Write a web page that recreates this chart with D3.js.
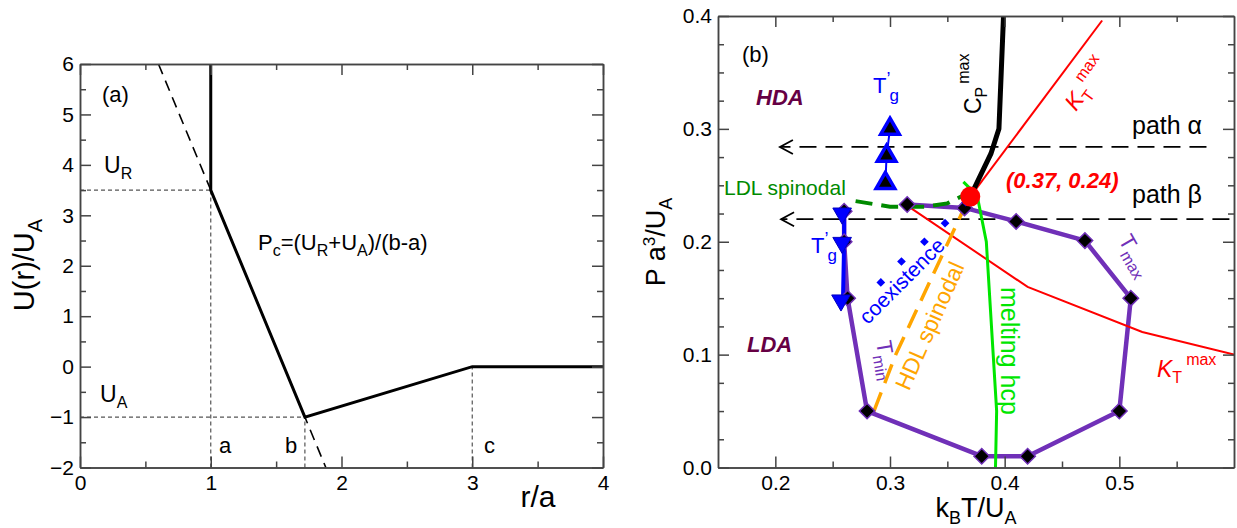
<!DOCTYPE html>
<html>
<head>
<meta charset="utf-8">
<script src="https://cdn.jsdelivr.net/npm/d3@7"></script>
<style>
  body { margin: 0; background: #fff; }
  svg { display: block; }
  text { font-family: "Liberation Sans", Arial, Helvetica, sans-serif; }
</style>
</head>
<body>
<svg id="chart" width="1237" height="528"></svg>
<script>
// ---------- Panel (a): ramp potential U(r)/U_A ----------
const potR = [1, 1, 1.72, 3, 4];
const potU = [6, 3.5, -1, 0, 0];
const rampR = [0.6, 1.88];          // extension of the repulsive ramp
const rampU = [6, -2];
const hGuideU = [3.5, -1];           // horizontal guides from r=0
const hGuideEnd = [1, 1.72];
const vGuideR = [1, 1.72, 3];        // vertical guides from U=-2
const vGuideTop = [3.5, -1, 0];
const aXTicks = [0, 1, 2, 3, 4];
const aXMinor = [0.5, 1.5, 2.5, 3.5];
const aYTicks = [-2, -1, 0, 1, 2, 3, 4, 5, 6];
const aYMinor = [-1.5, -0.5, 0.5, 1.5, 2.5, 3.5, 4.5, 5.5];

// ---------- Panel (b): phase diagram P a^3/U_A vs k_B T/U_A ----------
const bXTicks = [0.2, 0.3, 0.4, 0.5];
const bXMinor = [0.25, 0.35, 0.45, 0.55];
const bYTicks = [0.0, 0.1, 0.2, 0.3, 0.4];
const bYLabels = ["0.0", "0.1", "0.2", "0.3", "0.4"];
const bYMinor = [0.025, 0.05, 0.075, 0.125, 0.15, 0.175, 0.225, 0.25, 0.275, 0.325, 0.35, 0.375];

// density-extremum line (T_min branch then T_max branch)
const tmdT = [0.260, 0.260, 0.263, 0.280, 0.380, 0.420, 0.500, 0.510, 0.470, 0.410, 0.365, 0.315];
const tmdP = [0.227, 0.200, 0.150, 0.050, 0.010, 0.010, 0.050, 0.150, 0.201, 0.218, 0.230, 0.233];
// glass transition T'_g
const tgDownT = [0.260, 0.260, 0.259];
const tgDownP = [0.226, 0.200, 0.149];
const tgUpT = [0.296, 0.297, 0.300];
const tgUpP = [0.252, 0.276, 0.300];
// liquid-liquid coexistence
const coexT = [0.292, 0.310, 0.330, 0.348, 0.366];
const coexP = [0.164, 0.1825, 0.200, 0.2165, 0.235];
// critical point
const critT = 0.37;
const critP = 0.24;
// response-function maxima
const cpT = [0.370, 0.388, 0.395, 0.397, 0.399];
const cpP = [0.240, 0.278, 0.300, 0.350, 0.400];
const ktUpT = [0.370, 0.485];
const ktUpP = [0.240, 0.396];
const ktLowT = [0.315, 0.420, 0.520, 0.600];
const ktLowP = [0.232, 0.160, 0.120, 0.100];
// melting line of hcp crystal
const meltT = [0.364, 0.376, 0.384, 0.390, 0.393, 0.392];
const meltP = [0.253, 0.241, 0.200, 0.100, 0.050, 0.000];
// spinodals
const ldlT = [0.270, 0.300, 0.330, 0.350, 0.366];
const ldlP = [0.236, 0.231, 0.231, 0.234, 0.242];
const hdlT = [0.286, 0.305, 0.368];
const hdlP = [0.050, 0.100, 0.237];
// isobaric cooling paths (start T, end T, P)
const pathNames = ["path \u03b1", "path \u03b2"];
const pathFrom = [0.576, 0.596];
const pathTo = [0.204, 0.205];
const pathP = [0.284, 0.220];

const svg = d3.select("#chart");

// text with sub/superscript pieces
function rich(g, x, y, parts, o = {}) {
  const t = g.append("text")
    .attr("transform", `translate(${x},${y}) rotate(${o.rot || 0})`)
    .attr("fill", o.fill || "#000")
    .attr("font-size", o.size || 20)
    .attr("text-anchor", o.anchor || "start");
  if (o.weight) t.attr("font-weight", o.weight);
  if (o.italic) t.attr("font-style", "italic");
  let prev = 0;
  parts.forEach(p => {
    const off = p.off || 0;
    const s = t.append("tspan").text(p.t).attr("dy", off - prev);
    if (p.size) s.attr("font-size", p.size);
    if (p.dx) s.attr("dx", p.dx);
    if (p.italic) s.attr("font-style", "italic");
    prev = off;
  });
  return t;
}

function frame(g, x, y, major, minor, labels) {
  const st = sel => sel.call(s => s.selectAll("line").attr("stroke", "#444").attr("stroke-width", 1.5))
                       .call(s => s.select(".domain").attr("stroke", "#444").attr("stroke-width", 1.5))
                       .call(s => s.selectAll("text").attr("font-size", 21).attr("fill", "#000")
                          .style("font-family", '"Liberation Sans", Arial, sans-serif'));
  const [x0, x1] = x.range(), [y0, y1] = y.range();
  // bottom
  g.append("g").attr("transform", `translate(0,${y0})`)
    .call(d3.axisBottom(x).tickValues(major.x).tickSize(-11).tickSizeOuter(0).tickPadding(8).tickFormat(labels.x)).call(st);
  g.append("g").attr("transform", `translate(0,${y0})`)
    .call(d3.axisBottom(x).tickValues(minor.x).tickSize(-6).tickSizeOuter(0).tickFormat("")).call(st);
  // top
  g.append("g").attr("transform", `translate(0,${y1})`)
    .call(d3.axisTop(x).tickValues(major.x).tickSize(-11).tickSizeOuter(0).tickFormat("")).call(st);
  g.append("g").attr("transform", `translate(0,${y1})`)
    .call(d3.axisTop(x).tickValues(minor.x).tickSize(-6).tickSizeOuter(0).tickFormat("")).call(st);
  // left
  g.append("g").attr("transform", `translate(${x0},0)`)
    .call(d3.axisLeft(y).tickValues(major.y).tickSize(-11).tickSizeOuter(0).tickPadding(6).tickFormat(labels.y)).call(st);
  g.append("g").attr("transform", `translate(${x0},0)`)
    .call(d3.axisLeft(y).tickValues(minor.y).tickSize(-6).tickSizeOuter(0).tickFormat("")).call(st);
  // right
  g.append("g").attr("transform", `translate(${x1},0)`)
    .call(d3.axisRight(y).tickValues(major.y).tickSize(-11).tickSizeOuter(0).tickFormat("")).call(st);
  g.append("g").attr("transform", `translate(${x1},0)`)
    .call(d3.axisRight(y).tickValues(minor.y).tickSize(-6).tickSizeOuter(0).tickFormat("")).call(st);
}

// =================== Panel (a) ===================
const xA = d3.scaleLinear().domain([0, 4]).range([80, 603]);
const yA = d3.scaleLinear().domain([-2, 6]).range([467.5, 64]);
const gA = svg.append("g");

// thin dashed guides
hGuideU.forEach((u, i) => {
  gA.append("line").attr("x1", xA(0)).attr("x2", xA(hGuideEnd[i]))
    .attr("y1", yA(u)).attr("y2", yA(u))
    .attr("stroke", "#555").attr("stroke-width", 1.2).attr("stroke-dasharray", "4,3");
});
vGuideR.forEach((r, i) => {
  gA.append("line").attr("x1", xA(r)).attr("x2", xA(r))
    .attr("y1", yA(-2)).attr("y2", yA(vGuideTop[i]))
    .attr("stroke", "#555").attr("stroke-width", 1.2).attr("stroke-dasharray", "4,3");
});

// dashed ramp extension
gA.append("line").attr("x1", xA(rampR[0])).attr("y1", yA(rampU[0]))
  .attr("x2", xA(rampR[1])).attr("y2", yA(rampU[1]))
  .attr("stroke", "#000").attr("stroke-width", 1.6).attr("stroke-dasharray", "11,7");

// the potential
const lineA = d3.line().x((d, i) => xA(potR[i])).y((d, i) => yA(potU[i]));
gA.append("path").attr("d", lineA(potR)).attr("fill", "none")
  .attr("stroke", "#000").attr("stroke-width", 3).attr("stroke-linejoin", "miter");

frame(gA, xA, yA, { x: aXTicks, y: aYTicks }, { x: aXMinor, y: aYMinor },
  { x: d3.format("d"), y: d3.format("d") });

// labels
rich(gA, 102, 102, [{ t: "(a)" }], { size: 22 });
rich(gA, 104, 173, [{ t: "U" }, { t: "R", off: 6, size: 16 }], { size: 23 });
rich(gA, 100, 402, [{ t: "U" }, { t: "A", off: 6, size: 16 }], { size: 23 });
rich(gA, 219, 453, [{ t: "a" }], { size: 22 });
rich(gA, 285, 453, [{ t: "b" }], { size: 22 });
rich(gA, 484, 453, [{ t: "c" }], { size: 22 });
rich(gA, 258, 250, [
  { t: "P" }, { t: "c", off: 6, size: 16 }, { t: "=(U" }, { t: "R", off: 6, size: 16 },
  { t: "+U" }, { t: "A", off: 6, size: 16 }, { t: ")/(b-a)" }], { size: 22 });
rich(gA, 34, 265, [{ t: "U(r)/U" }, { t: "A", off: 8, size: 20 }], { size: 29, rot: -90, anchor: "middle" });
rich(gA, 538, 507, [{ t: "r/a" }], { size: 30, anchor: "middle" });

// =================== Panel (b) ===================
const xB = d3.scaleLinear().domain([0.15, 0.6]).range([718, 1234]);
const yB = d3.scaleLinear().domain([0, 0.4]).range([467.5, 16]);
const gB = svg.append("g");
const clipB = svg.append("defs").append("clipPath").attr("id", "clipB");
clipB.append("rect").attr("x", 718).attr("y", 16).attr("width", 516).attr("height", 451.5);
const plotB = gB.append("g").attr("clip-path", "url(#clipB)");

const lineB = (T, P) => d3.line().x((d, i) => xB(T[i])).y((d, i) => yB(P[i]))(T);

// isobaric paths with open arrow heads
pathNames.forEach((nm, i) => {
  plotB.append("line").attr("x1", xB(pathFrom[i])).attr("x2", xB(pathTo[i]))
    .attr("y1", yB(pathP[i])).attr("y2", yB(pathP[i]))
    .attr("stroke", "#000").attr("stroke-width", 1.8).attr("stroke-dasharray", "17,9");
  const tx = xB(pathTo[i]), ty = yB(pathP[i]);
  plotB.append("path").attr("d", `M${tx + 13},${ty - 7}L${tx},${ty}L${tx + 13},${ty + 7}`)
    .attr("fill", "none").attr("stroke", "#000").attr("stroke-width", 1.8);
});

// density extrema
plotB.append("path").attr("d", lineB(tmdT, tmdP)).attr("fill", "none")
  .attr("stroke", "#7030b8").attr("stroke-width", 4.5).attr("stroke-linejoin", "round");
// compressibility maxima
plotB.append("path").attr("d", lineB(ktLowT, ktLowP)).attr("fill", "none").attr("stroke", "#ff0000").attr("stroke-width", 2);
plotB.append("path").attr("d", lineB(ktUpT, ktUpP)).attr("fill", "none").attr("stroke", "#ff0000").attr("stroke-width", 2);
// melting line
plotB.append("path").attr("d", lineB(meltT, meltP)).attr("fill", "none").attr("stroke", "#00e600").attr("stroke-width", 3);
// spinodals
plotB.append("path").attr("d", lineB(ldlT, ldlP)).attr("fill", "none").attr("stroke", "#008a00")
  .attr("stroke-width", 4).attr("stroke-dasharray", "17,9");
plotB.append("path").attr("d", lineB(hdlT, hdlP)).attr("fill", "none").attr("stroke", "#ffa500")
  .attr("stroke-width", 3.5).attr("stroke-dasharray", "20,10");
// heat-capacity maxima
plotB.append("path").attr("d", lineB(cpT, cpP)).attr("fill", "none").attr("stroke", "#000").attr("stroke-width", 5);

// T'_g lines
plotB.append("path").attr("d", lineB(tgDownT, tgDownP)).attr("fill", "none").attr("stroke", "#0000ff").attr("stroke-width", 4);
plotB.append("path").attr("d", lineB(tgUpT, tgUpP)).attr("fill", "none").attr("stroke", "#0000ff").attr("stroke-width", 2);

// diamonds on the density-extremum line
const sq = d3.symbol().type(d3.symbolSquare).size(120);
plotB.selectAll(".tmd").data(tmdT).join("path")
  .attr("d", sq)
  .attr("transform", (d, i) => `translate(${xB(d)},${yB(tmdP[i])}) rotate(45)`)
  .attr("fill", "#000").attr("stroke", "#7030b8").attr("stroke-width", 1.5);

const tri = d3.symbol().type(d3.symbolTriangle).size(150);
plotB.selectAll(".tgd").data(tgDownT).join("path")
  .attr("d", tri)
  .attr("transform", (d, i) => `translate(${xB(d) - 2},${yB(tgDownP[i]) + 1}) rotate(180)`)
  .attr("fill", "#0000ff").attr("stroke", "#0000c0").attr("stroke-width", 1);
plotB.selectAll(".tgu").data(tgUpT).join("path")
  .attr("d", tri)
  .attr("transform", (d, i) => `translate(${xB(d)},${yB(tgUpP[i])})`)
  .attr("fill", "#000").attr("stroke", "#0000ff").attr("stroke-width", 3.5);

// coexistence points
const sm = d3.symbol().type(d3.symbolSquare).size(38);
plotB.selectAll(".cx").data(coexT).join("path")
  .attr("d", sm)
  .attr("transform", (d, i) => `translate(${xB(d)},${yB(coexP[i])}) rotate(45)`)
  .attr("fill", "#0000ff");

// critical point
plotB.append("circle").attr("cx", xB(critT)).attr("cy", yB(critP)).attr("r", 10).attr("fill", "#ff0000");

frame(gB, xB, yB, { x: bXTicks, y: bYTicks }, { x: bXMinor, y: bYMinor },
  { x: d3.format(".1f"), y: (d, i) => bYLabels[i] });

// panel (b) labels
rich(gB, 742, 62, [{ t: "(b)" }], { size: 22 });
rich(gB, 756, 105, [{ t: "HDA" }], { size: 22, weight: "bold", italic: true, fill: "#660044" });
rich(gB, 747, 352, [{ t: "LDA" }], { size: 22, weight: "bold", italic: true, fill: "#660044" });
rich(gB, 873, 93, [{ t: "T" }, { t: "\u2019", off: -8, size: 18 }, { t: "g", off: 8, size: 17, dx: -1 }], { size: 22, fill: "#0000ff" });
rich(gB, 811, 253, [{ t: "T" }, { t: "\u2019", off: -8, size: 18 }, { t: "g", off: 8, size: 17, dx: -1 }], { size: 22, fill: "#0000ff" });
rich(gB, 981, 114, [{ t: "C" }, { t: "P", off: 6, size: 16 }, { t: "max", off: -12, size: 16, dx: 3 }], { size: 23, rot: -90 });
rich(gB, 1076, 112, [{ t: "K", italic: true }, { t: "T", off: 6, size: 16 }, { t: "max", off: -12, size: 16, dx: 2 }], { size: 23, rot: -54, fill: "#ff0000" });
rich(gB, 1157, 377, [{ t: "K", italic: true }, { t: "T", off: 6, size: 16 }, { t: "max", off: -12, size: 16, dx: 4 }], { size: 23, fill: "#ff0000" });
pathNames.forEach((nm, i) => {
  rich(gB, 1132, i === 0 ? 134 : 203, [{ t: nm }], { size: 25 });
});
rich(gB, 1006, 188, [{ t: "(0.37, 0.24)" }], { size: 22, weight: "bold", italic: true, fill: "#ff0000" });
rich(gB, 724, 195, [{ t: "LDL spinodal" }], { size: 21, fill: "#008a00" });
rich(gB, 907, 286, [{ t: "coexistence" }], { size: 21, fill: "#0000ff", rot: -45, anchor: "middle" });
rich(gB, 937, 329, [{ t: "HDL spinodal" }], { size: 23, fill: "#ffa500", rot: -66, anchor: "middle" });
rich(gB, 1001, 287, [{ t: "melting hcp" }], { size: 25, fill: "#00e600", rot: 90 });
rich(gB, 1118, 240, [{ t: "T" }, { t: "max", off: 6, size: 16 }], { size: 22, fill: "#7030b8", rot: 60 });
rich(gB, 876, 342, [{ t: "T" }, { t: "min", off: 6, size: 16 }], { size: 22, fill: "#7030b8", rot: 80 });
rich(gB, 665, 242, [{ t: "P a" }, { t: "3", off: -10, size: 17 }, { t: "/U", off: 0 }, { t: "A", off: 7, size: 18 }], { size: 27, rot: -90, anchor: "middle" });
rich(gB, 976, 517, [{ t: "k" }, { t: "B", off: 7, size: 18 }, { t: "T/U", off: 0 }, { t: "A", off: 7, size: 18 }], { size: 27, anchor: "middle" });
</script>
</body>
</html>
